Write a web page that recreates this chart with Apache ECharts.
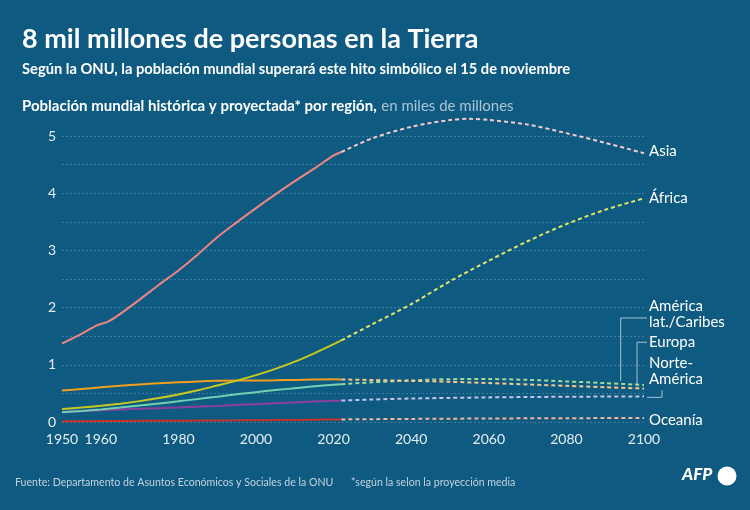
<!DOCTYPE html>
<html>
<head>
<meta charset="utf-8">
<script src="https://cdn.jsdelivr.net/npm/echarts@6/dist/echarts.min.js"></script>
<style>
html,body{margin:0;padding:0;background:#0f5a80;}
#c{width:750px;height:510px;}
</style>
</head>
<body>
<div id="c"></div>
<script>
// ---- data (billions) ----
const histYears = [1950,1955,1960,1965,1970,1975,1980,1985,1990,1995,2000,2005,2010,2015,2020,2022];
const asiaHistYears = [1950,1955,1959,1962,1965,1970,1975,1980,1985,1990,1995,2000,2005,2010,2015,2020,2022];
const projYears = [2022,2030,2040,2050,2060,2070,2080,2090,2100];
const asiaProjYears = [2022,2030,2040,2050,2055,2060,2070,2080,2090,2100];

const asiaHist = [1.37,1.54,1.69,1.76,1.89,2.14,2.40,2.65,2.93,3.23,3.49,3.74,3.98,4.21,4.43,4.66,4.72];
const asiaProj = [4.72,4.96,5.16,5.28,5.30,5.28,5.20,5.05,4.88,4.70];

const africaHist = [0.228,0.254,0.284,0.321,0.365,0.418,0.481,0.554,0.638,0.723,0.819,0.929,1.055,1.201,1.360,1.427];
const africaProj = [1.427,1.71,2.06,2.46,2.82,3.16,3.46,3.71,3.91];

const europeHist = [0.550,0.578,0.606,0.634,0.657,0.677,0.694,0.708,0.721,0.727,0.726,0.729,0.736,0.742,0.746,0.744];
const europeProj = [0.744,0.734,0.719,0.703,0.681,0.657,0.632,0.607,0.586];

const latamHist = [0.169,0.193,0.220,0.252,0.287,0.324,0.362,0.403,0.443,0.484,0.522,0.558,0.591,0.623,0.652,0.660];
const latamProj = [0.660,0.694,0.727,0.749,0.751,0.737,0.710,0.680,0.647];

const namHist = [0.173,0.189,0.205,0.219,0.231,0.242,0.254,0.267,0.280,0.296,0.312,0.328,0.343,0.357,0.370,0.375];
const namProj = [0.375,0.393,0.410,0.421,0.430,0.437,0.441,0.445,0.448];

const oceHist = [0.0127,0.0142,0.0158,0.0177,0.0197,0.0213,0.0229,0.0249,0.0270,0.0290,0.0312,0.0338,0.0368,0.0401,0.0433,0.0449];
const oceProj = [0.0449,0.0494,0.0539,0.0577,0.0613,0.0642,0.0665,0.0682,0.0688];

const yTickLabels = ['0','1','2','3','4','5'];
const xTickLabels = ['1950','1960','1980','2000','2020','2040','2060','2080','2100'];

const regionLabels = {
  asia: 'Asia', africa: 'África', latam: 'América\nlat./Caribes',
  europe: 'Europa', nam: 'Norte-\nAmérica', oce: 'Oceanía'
};

// ---- helpers ----
const zip = (xs, ys) => xs.map((x, i) => [x, ys[i]]);
const FONT = 'Lato, "Noto Sans", sans-serif';

function hist(name, years, vals, color) {
  return {
    type: 'line', name: name + ' hist', data: zip(years, vals), smooth: 0.3,
    showSymbol: false, symbol: 'none', clip: false,
    lineStyle: { color: color, width: 2 }, z: 3, silent: true
  };
}
function proj(name, years, vals, color, label, offY) {
  return {
    type: 'line', name: name + ' proj', data: zip(years, vals), smooth: 0.3,
    showSymbol: false, symbol: 'none', clip: false,
    lineStyle: { color: color, width: 2, type: [4, 3] }, z: 3, silent: true,
    endLabel: {
      show: true, formatter: label, color: '#ffffff', fontFamily: FONT,
      fontSize: 15, lineHeight: 16, distance: 5, offset: [0, offY], align: 'left'
    }
  };
}

const chart = echarts.init(document.getElementById('c'), null, { renderer: 'canvas' });

const option = {
  backgroundColor: '#0f5a80',
  animation: false,
  textStyle: { fontFamily: FONT },
  title: [
    { text: '8 mil millones de personas en la Tierra', left: 17, top: 21,
      textStyle: { color: '#ffffff', fontSize: 27, fontWeight: 'bold', fontFamily: FONT } },
    { text: 'Según la ONU, la población mundial superará este hito simbólico el 15 de noviembre', left: 17, top: 57,
      textStyle: { color: '#ffffff', fontSize: 14.7, fontWeight: 'bold', fontFamily: FONT } },
    { text: '{b|Población mundial histórica y proyectada* por región,} {n|en miles de millones}', left: 17, top: 92,
      textStyle: { fontFamily: FONT, fontWeight: 'normal', rich: {
        b: { color: '#ffffff', fontSize: 15, fontWeight: 'bold', fontFamily: FONT },
        n: { color: '#aac4d6', fontSize: 15, fontWeight: 'normal', fontFamily: FONT }
      } } },
    { text: 'Fuente: Departamento de Asuntos Económicos y Sociales de la ONU', left: 10, top: 472,
      textStyle: { color: '#c3d3df', fontSize: 10.6, fontWeight: 'normal', fontFamily: FONT } },
    { text: '*según la selon la proyección media', left: 346, top: 472,
      textStyle: { color: '#c3d3df', fontSize: 10.6, fontWeight: 'normal', fontFamily: FONT } }
  ],
  grid: { left: 62, right: 106, top: 136, bottom: 88, containLabel: false },
  xAxis: {
    type: 'value', min: 1950, max: 2100, interval: 10,
    axisLine: { show: false }, axisTick: { show: false }, splitLine: { show: false },
    axisLabel: {
      color: '#e6eef4', fontSize: 14, fontFamily: FONT, margin: 10,
      formatter: v => xTickLabels.indexOf(String(v)) >= 0 ? String(v) : ''
    }
  },
  yAxis: {
    type: 'value', min: 0, max: 5, interval: 0.5,
    axisLine: { show: false }, axisTick: { show: false },
    splitLine: { show: true, lineStyle: { color: '#3d7d9f', width: 1, type: [2, 2] } },
    axisLabel: {
      color: '#e6eef4', fontSize: 14, fontFamily: FONT, margin: 6,
      formatter: v => yTickLabels.indexOf(String(v)) >= 0 ? String(v) : ''
    }
  },
  series: [
    hist('oce', histYears, oceHist, '#c8322a'),
    proj('oce', projYears, oceProj, '#f2b49c', regionLabels.oce, 2),
    hist('nam', histYears, namHist, '#8d3f9f'),
    proj('nam', projYears, namProj, '#c6c4ee', regionLabels.nam, -25),
    hist('latam', histYears, latamHist, '#72d0b2'),
    proj('latam', projYears, latamProj, '#a6d89c', regionLabels.latam, -71),
    hist('europe', histYears, europeHist, '#f29e1e'),
    proj('europe', projYears, europeProj, '#f5c88e', regionLabels.europe, -46),
    hist('africa', histYears, africaHist, '#c8c820'),
    proj('africa', projYears, africaProj, '#e6e66a', regionLabels.africa, 0),
    hist('asia', asiaHistYears, asiaHist, '#f08482'),
    proj('asia', asiaProjYears, asiaProj, '#f6cccc', regionLabels.asia, -2)
  ]
};
chart.setOption(option);

// ---- leader lines for stacked labels ----
function px(x, y) { return chart.convertToPixel({ gridIndex: 0 }, [x, y]); }
const lc = '#a9c2d4';
const xEnd = px(2100, 0)[0];
const la = px(2094, 0.665), eu = px(2098.2, 0.59), na = px(2100, 0.448);
const laTop = la[1] - 66, euTop = eu[1] - 46;
chart.setOption({
  graphic: [
    { type: 'polyline', shape: { points: [[la[0], la[1] - 3], [la[0], laTop], [xEnd + 3, laTop]] },
      style: { stroke: lc, lineWidth: 1, fill: null }, silent: true },
    { type: 'polyline', shape: { points: [[eu[0], eu[1] - 2], [eu[0], euTop], [xEnd + 3, euTop]] },
      style: { stroke: lc, lineWidth: 1, fill: null }, silent: true },
    { type: 'polyline', shape: { points: [[xEnd + 3, na[1] + 1], [xEnd + 18, na[1] + 1], [xEnd + 18, na[1] - 6]] },
      style: { stroke: lc, lineWidth: 1, fill: null }, silent: true },
    { type: 'text', left: 682, top: 466,
      style: { text: 'AFP', fill: '#ffffff', font: 'italic 900 17px ' + FONT } },
    { type: 'circle', shape: { cx: 727, cy: 476, r: 9.5 }, style: { fill: '#ffffff' } }
  ]
});
</script>
</body>
</html>
